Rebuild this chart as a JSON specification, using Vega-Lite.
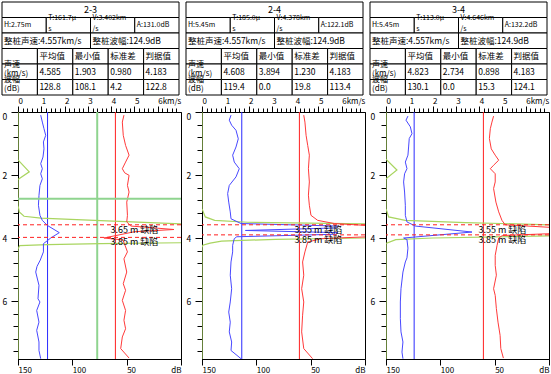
{
"$schema": "https://vega.github.io/schema/vega-lite/v6.json",
"padding": {"left": 1, "top": 1, "right": 0, "bottom": 0},
"background": "white",
"config": {
 "font": "Noto Sans CJK SC",
 "view": {"stroke": null},
 "axis": {"labelFont": "Noto Sans CJK SC", "labelFontSize": 8, "labelColor": "#000", "domainColor": "#000", "tickColor": "#000", "grid": false, "labelFlush": false, "labelOverlap": false, "labelBound": false, "title": null},
 "text": {"font": "Noto Sans CJK SC", "color": "#000"}
},
"datasets": {
 "all": [
  {"p":"2-3","r":"t","c":"x","t":"2-3"},
  {"p":"2-3","r":"i","c":"H","t":"H:2.75m"},
  {"p":"2-3","r":"i","c":"T","t":"T:161.7μ\ns"},
  {"p":"2-3","r":"i","c":"V","t":"V:3.402km\n/s"},
  {"p":"2-3","r":"i","c":"A","t":"A:131.0dB"},
  {"p":"2-3","r":"w","c":"sv","t":"整桩声速:4.557km/s"},
  {"p":"2-3","r":"w","c":"sa","t":"整桩波幅:124.9dB"},
  {"p":"2-3","r":"h","c":"lab","t":""},
  {"p":"2-3","r":"h","c":"avg","t":"平均值"},
  {"p":"2-3","r":"h","c":"min","t":"最小值"},
  {"p":"2-3","r":"h","c":"std","t":"标准差"},
  {"p":"2-3","r":"h","c":"crit","t":"判据值"},
  {"p":"2-3","r":"v","c":"lab","t":"声速\n(km/s)"},
  {"p":"2-3","r":"v","c":"avg","t":"4.585"},
  {"p":"2-3","r":"v","c":"min","t":"1.903"},
  {"p":"2-3","r":"v","c":"std","t":"0.980"},
  {"p":"2-3","r":"v","c":"crit","t":"4.183"},
  {"p":"2-3","r":"a","c":"lab","t":"波幅\n(dB)"},
  {"p":"2-3","r":"a","c":"avg","t":"128.8"},
  {"p":"2-3","r":"a","c":"min","t":"108.1"},
  {"p":"2-3","r":"a","c":"std","t":"4.2"},
  {"p":"2-3","r":"a","c":"crit","t":"122.8"},
  {"p":"2-4","r":"t","c":"x","t":"2-4"},
  {"p":"2-4","r":"i","c":"H","t":"H:5.45m"},
  {"p":"2-4","r":"i","c":"T","t":"T:185.0μ\ns"},
  {"p":"2-4","r":"i","c":"V","t":"V:4.378km\n/s"},
  {"p":"2-4","r":"i","c":"A","t":"A:122.1dB"},
  {"p":"2-4","r":"w","c":"sv","t":"整桩声速:4.557km/s"},
  {"p":"2-4","r":"w","c":"sa","t":"整桩波幅:124.9dB"},
  {"p":"2-4","r":"h","c":"lab","t":""},
  {"p":"2-4","r":"h","c":"avg","t":"平均值"},
  {"p":"2-4","r":"h","c":"min","t":"最小值"},
  {"p":"2-4","r":"h","c":"std","t":"标准差"},
  {"p":"2-4","r":"h","c":"crit","t":"判据值"},
  {"p":"2-4","r":"v","c":"lab","t":"声速\n(km/s)"},
  {"p":"2-4","r":"v","c":"avg","t":"4.608"},
  {"p":"2-4","r":"v","c":"min","t":"3.894"},
  {"p":"2-4","r":"v","c":"std","t":"1.230"},
  {"p":"2-4","r":"v","c":"crit","t":"4.183"},
  {"p":"2-4","r":"a","c":"lab","t":"波幅\n(dB)"},
  {"p":"2-4","r":"a","c":"avg","t":"119.4"},
  {"p":"2-4","r":"a","c":"min","t":"0.0"},
  {"p":"2-4","r":"a","c":"std","t":"19.8"},
  {"p":"2-4","r":"a","c":"crit","t":"113.4"},
  {"p":"3-4","r":"t","c":"x","t":"3-4"},
  {"p":"3-4","r":"i","c":"H","t":"H:5.45m"},
  {"p":"3-4","r":"i","c":"T","t":"T:113.0μ\ns"},
  {"p":"3-4","r":"i","c":"V","t":"V:4.646km\n/s"},
  {"p":"3-4","r":"i","c":"A","t":"A:132.2dB"},
  {"p":"3-4","r":"w","c":"sv","t":"整桩声速:4.557km/s"},
  {"p":"3-4","r":"w","c":"sa","t":"整桩波幅:124.9dB"},
  {"p":"3-4","r":"h","c":"lab","t":""},
  {"p":"3-4","r":"h","c":"avg","t":"平均值"},
  {"p":"3-4","r":"h","c":"min","t":"最小值"},
  {"p":"3-4","r":"h","c":"std","t":"标准差"},
  {"p":"3-4","r":"h","c":"crit","t":"判据值"},
  {"p":"3-4","r":"v","c":"lab","t":"声速\n(km/s)"},
  {"p":"3-4","r":"v","c":"avg","t":"4.823"},
  {"p":"3-4","r":"v","c":"min","t":"2.734"},
  {"p":"3-4","r":"v","c":"std","t":"0.898"},
  {"p":"3-4","r":"v","c":"crit","t":"4.183"},
  {"p":"3-4","r":"a","c":"lab","t":"波幅\n(dB)"},
  {"p":"3-4","r":"a","c":"avg","t":"130.1"},
  {"p":"3-4","r":"a","c":"min","t":"0.0"},
  {"p":"3-4","r":"a","c":"std","t":"15.3"},
  {"p":"3-4","r":"a","c":"crit","t":"124.1"},

  {"p":"2-3","s":"crit","vel":4.183,"amp":122.8},
  {"p":"2-4","s":"crit","vel":4.183,"amp":113.4},
  {"p":"3-4","s":"crit","vel":4.183,"amp":124.1},
  {"p":"2-3","s":"cur","d":2.75,"vel":3.402},
  {"p":"2-3","s":"def","d":3.58,"vel":4.183,"lab":"3.65 m 缺陷"},
  {"p":"2-3","s":"def","d":3.98,"vel":4.183,"lab":"3.85 m 缺陷"},
  {"p":"2-4","s":"def","d":3.58,"vel":4.183,"lab":"3.55 m 缺陷"},
  {"p":"2-4","s":"def","d":3.9,"vel":4.183,"lab":"3.85 m 缺陷"},
  {"p":"3-4","s":"def","d":3.58,"vel":4.183,"lab":"3.55 m 缺陷"},
  {"p":"3-4","s":"def","d":3.9,"vel":4.183,"lab":"3.85 m 缺陷"},

  {"p":"2-3","s":"amp","d":0.1,"v":129.1},{"p":"2-3","s":"amp","d":0.32,"v":127.6},{"p":"2-3","s":"amp","d":0.53,"v":126.1},{"p":"2-3","s":"amp","d":0.74,"v":124.5},{"p":"2-3","s":"amp","d":0.95,"v":126.6},{"p":"2-3","s":"amp","d":1.17,"v":126.1},{"p":"2-3","s":"amp","d":1.43,"v":127.0},{"p":"2-3","s":"amp","d":1.64,"v":129.1},{"p":"2-3","s":"amp","d":1.8,"v":127.6},{"p":"2-3","s":"amp","d":1.96,"v":129.1},{"p":"2-3","s":"amp","d":2.12,"v":127.6},{"p":"2-3","s":"amp","d":2.33,"v":129.8},{"p":"2-3","s":"amp","d":2.65,"v":130.7},{"p":"2-3","s":"amp","d":2.96,"v":131.2},{"p":"2-3","s":"amp","d":3.28,"v":129.8},{"p":"2-3","s":"amp","d":3.44,"v":127.6},{"p":"2-3","s":"amp","d":3.6,"v":123.0},{"p":"2-3","s":"amp","d":3.83,"v":112.0},{"p":"2-3","s":"amp","d":4.0,"v":119.9},{"p":"2-3","s":"amp","d":4.18,"v":126.6},{"p":"2-3","s":"amp","d":4.44,"v":126.6},{"p":"2-3","s":"amp","d":4.7,"v":129.5},{"p":"2-3","s":"amp","d":4.9,"v":132.5},{"p":"2-3","s":"amp","d":5.08,"v":133.7},{"p":"2-3","s":"amp","d":5.5,"v":130.7},{"p":"2-3","s":"amp","d":5.93,"v":131.6},{"p":"2-3","s":"amp","d":6.03,"v":129.8},{"p":"2-3","s":"amp","d":6.3,"v":132.8},{"p":"2-3","s":"amp","d":6.67,"v":130.7},{"p":"2-3","s":"amp","d":6.93,"v":132.8},{"p":"2-3","s":"amp","d":7.3,"v":130.7},{"p":"2-3","s":"amp","d":7.57,"v":130.7},{"p":"2-3","s":"amp","d":7.83,"v":129.1},

  {"p":"2-3","s":"vel","d":0.1,"v":4.55},{"p":"2-3","s":"vel","d":0.32,"v":4.48},{"p":"2-3","s":"vel","d":0.74,"v":4.52},{"p":"2-3","s":"vel","d":1.06,"v":4.62},{"p":"2-3","s":"vel","d":1.37,"v":4.77},{"p":"2-3","s":"vel","d":1.59,"v":4.62},{"p":"2-3","s":"vel","d":1.8,"v":4.48},{"p":"2-3","s":"vel","d":1.93,"v":4.58},{"p":"2-3","s":"vel","d":2.01,"v":4.77},{"p":"2-3","s":"vel","d":2.33,"v":4.7},{"p":"2-3","s":"vel","d":2.54,"v":4.77},{"p":"2-3","s":"vel","d":2.86,"v":4.67},{"p":"2-3","s":"vel","d":3.28,"v":4.7},{"p":"2-3","s":"vel","d":3.49,"v":4.67},{"p":"2-3","s":"vel","d":3.62,"v":4.85},{"p":"2-3","s":"vel","d":3.73,"v":6.7},{"p":"2-3","s":"vel","d":3.8,"v":5.0},{"p":"2-3","s":"vel","d":4.0,"v":3.69},{"p":"2-3","s":"vel","d":4.06,"v":4.5},{"p":"2-3","s":"vel","d":4.2,"v":4.58},{"p":"2-3","s":"vel","d":4.44,"v":4.7},{"p":"2-3","s":"vel","d":4.66,"v":4.55},{"p":"2-3","s":"vel","d":5.08,"v":4.67},{"p":"2-3","s":"vel","d":5.45,"v":4.52},{"p":"2-3","s":"vel","d":5.66,"v":4.62},{"p":"2-3","s":"vel","d":5.98,"v":4.48},{"p":"2-3","s":"vel","d":6.3,"v":4.62},{"p":"2-3","s":"vel","d":6.61,"v":4.55},{"p":"2-3","s":"vel","d":6.88,"v":4.62},{"p":"2-3","s":"vel","d":7.14,"v":4.48},{"p":"2-3","s":"vel","d":7.51,"v":4.41},{"p":"2-3","s":"vel","d":7.81,"v":4.77},

  {"p":"2-3","s":"psd","d":0,"v":0},{"p":"2-3","s":"psd","d":1.52,"v":0},{"p":"2-3","s":"psd","d":1.9,"v":6.9},{"p":"2-3","s":"psd","d":2.14,"v":0},{"p":"2-3","s":"psd","d":2.96,"v":0},{"p":"2-3","s":"psd","d":3.17,"v":0.8},{"p":"2-3","s":"psd","d":3.31,"v":3.7},{"p":"2-3","s":"psd","d":3.37,"v":14},{"p":"2-3","s":"psd","d":3.44,"v":47},{"p":"2-3","s":"psd","d":3.55,"v":100},{"p":"2-3","s":"psd","d":3.7,"v":200},{"p":"2-3","s":"psd","d":4.1,"v":200},{"p":"2-3","s":"psd","d":4.15,"v":100},{"p":"2-3","s":"psd","d":4.18,"v":50.7},{"p":"2-3","s":"psd","d":4.21,"v":18},{"p":"2-3","s":"psd","d":4.24,"v":1},{"p":"2-3","s":"psd","d":4.35,"v":0},{"p":"2-3","s":"psd","d":7.84,"v":0},

  {"p":"2-4","s":"amp","d":0.1,"v":123.3},{"p":"2-4","s":"amp","d":0.26,"v":124.9},{"p":"2-4","s":"amp","d":0.42,"v":122.7},{"p":"2-4","s":"amp","d":0.58,"v":118.7},{"p":"2-4","s":"amp","d":0.85,"v":116.6},{"p":"2-4","s":"amp","d":1.11,"v":118.7},{"p":"2-4","s":"amp","d":1.37,"v":121.8},{"p":"2-4","s":"amp","d":1.59,"v":120.3},{"p":"2-4","s":"amp","d":1.8,"v":115.7},{"p":"2-4","s":"amp","d":2.06,"v":118.7},{"p":"2-4","s":"amp","d":2.33,"v":124.9},{"p":"2-4","s":"amp","d":2.59,"v":126.4},{"p":"2-4","s":"amp","d":2.86,"v":125.4},{"p":"2-4","s":"amp","d":3.17,"v":124.0},{"p":"2-4","s":"amp","d":3.39,"v":123.3},{"p":"2-4","s":"amp","d":3.54,"v":114.1},{"p":"2-4","s":"amp","d":3.62,"v":25},{"p":"2-4","s":"amp","d":3.68,"v":27},{"p":"2-4","s":"amp","d":3.76,"v":110},{"p":"2-4","s":"amp","d":3.83,"v":25},{"p":"2-4","s":"amp","d":3.88,"v":27},{"p":"2-4","s":"amp","d":3.96,"v":118},{"p":"2-4","s":"amp","d":4.02,"v":120.3},{"p":"2-4","s":"amp","d":4.23,"v":121.8},{"p":"2-4","s":"amp","d":4.44,"v":121.8},{"p":"2-4","s":"amp","d":4.76,"v":123.3},{"p":"2-4","s":"amp","d":5.18,"v":124.0},{"p":"2-4","s":"amp","d":5.61,"v":122.7},{"p":"2-4","s":"amp","d":6.03,"v":124.0},{"p":"2-4","s":"amp","d":6.35,"v":125.4},{"p":"2-4","s":"amp","d":6.67,"v":124.0},{"p":"2-4","s":"amp","d":6.98,"v":124.9},{"p":"2-4","s":"amp","d":7.3,"v":122.7},{"p":"2-4","s":"amp","d":7.57,"v":123.3},{"p":"2-4","s":"amp","d":7.83,"v":114.1},

  {"p":"2-4","s":"vel","d":0.1,"v":4.37},{"p":"2-4","s":"vel","d":0.32,"v":4.42},{"p":"2-4","s":"vel","d":0.74,"v":4.47},{"p":"2-4","s":"vel","d":1.06,"v":4.54},{"p":"2-4","s":"vel","d":1.37,"v":4.61},{"p":"2-4","s":"vel","d":1.8,"v":4.57},{"p":"2-4","s":"vel","d":2.22,"v":4.61},{"p":"2-4","s":"vel","d":2.64,"v":4.57},{"p":"2-4","s":"vel","d":2.96,"v":4.61},{"p":"2-4","s":"vel","d":3.28,"v":4.68},{"p":"2-4","s":"vel","d":3.44,"v":4.97},{"p":"2-4","s":"vel","d":3.54,"v":5.68},{"p":"2-4","s":"vel","d":3.62,"v":7.5},{"p":"2-4","s":"vel","d":3.95,"v":7.5},{"p":"2-4","s":"vel","d":4.02,"v":5.11},{"p":"2-4","s":"vel","d":4.13,"v":4.54},{"p":"2-4","s":"vel","d":4.44,"v":4.42},{"p":"2-4","s":"vel","d":4.76,"v":4.32},{"p":"2-4","s":"vel","d":5.18,"v":4.37},{"p":"2-4","s":"vel","d":5.61,"v":4.28},{"p":"2-4","s":"vel","d":6.03,"v":4.37},{"p":"2-4","s":"vel","d":6.45,"v":4.32},{"p":"2-4","s":"vel","d":6.98,"v":4.28},{"p":"2-4","s":"vel","d":7.51,"v":4.37},{"p":"2-4","s":"vel","d":7.83,"v":4.75},

  {"p":"2-4","s":"psd","d":0,"v":0},{"p":"2-4","s":"psd","d":3.07,"v":0},{"p":"2-4","s":"psd","d":3.33,"v":2},{"p":"2-4","s":"psd","d":3.44,"v":7.8},{"p":"2-4","s":"psd","d":3.5,"v":28},{"p":"2-4","s":"psd","d":3.55,"v":100},{"p":"2-4","s":"psd","d":3.65,"v":200},{"p":"2-4","s":"psd","d":3.95,"v":200},{"p":"2-4","s":"psd","d":4.0,"v":100},{"p":"2-4","s":"psd","d":4.04,"v":45},{"p":"2-4","s":"psd","d":4.1,"v":12},{"p":"2-4","s":"psd","d":4.16,"v":5},{"p":"2-4","s":"psd","d":4.23,"v":0.5},{"p":"2-4","s":"psd","d":4.3,"v":0},{"p":"2-4","s":"psd","d":7.84,"v":0},

  {"p":"3-4","s":"amp","d":0.13,"v":129.8},{"p":"3-4","s":"amp","d":0.26,"v":131.6},{"p":"3-4","s":"amp","d":0.47,"v":127.6},{"p":"3-4","s":"amp","d":0.69,"v":126.1},{"p":"3-4","s":"amp","d":0.84,"v":128.6},{"p":"3-4","s":"amp","d":1.11,"v":129.2},{"p":"3-4","s":"amp","d":1.37,"v":129.8},{"p":"3-4","s":"amp","d":1.59,"v":132.2},{"p":"3-4","s":"amp","d":1.8,"v":130.7},{"p":"3-4","s":"amp","d":1.96,"v":132.9},{"p":"3-4","s":"amp","d":2.22,"v":133.8},{"p":"3-4","s":"amp","d":2.54,"v":132.9},{"p":"3-4","s":"amp","d":2.96,"v":132.2},{"p":"3-4","s":"amp","d":3.28,"v":132.2},{"p":"3-4","s":"amp","d":3.49,"v":130.7},{"p":"3-4","s":"amp","d":3.62,"v":123},{"p":"3-4","s":"amp","d":3.81,"v":70.9},{"p":"3-4","s":"amp","d":4.0,"v":133.8},{"p":"3-4","s":"amp","d":4.05,"v":130.7},{"p":"3-4","s":"amp","d":4.32,"v":129.8},{"p":"3-4","s":"amp","d":4.63,"v":130.7},{"p":"3-4","s":"amp","d":4.76,"v":132.2},{"p":"3-4","s":"amp","d":5.08,"v":134.4},{"p":"3-4","s":"amp","d":5.61,"v":136.2},{"p":"3-4","s":"amp","d":6.03,"v":136.8},{"p":"3-4","s":"amp","d":6.56,"v":136.8},{"p":"3-4","s":"amp","d":6.98,"v":136.2},{"p":"3-4","s":"amp","d":7.3,"v":134.4},{"p":"3-4","s":"amp","d":7.62,"v":135.3},{"p":"3-4","s":"amp","d":7.83,"v":134.4},

  {"p":"3-4","s":"vel","d":0.13,"v":4.62},{"p":"3-4","s":"vel","d":0.32,"v":4.55},{"p":"3-4","s":"vel","d":0.53,"v":4.48},{"p":"3-4","s":"vel","d":0.84,"v":4.44},{"p":"3-4","s":"vel","d":1.17,"v":4.52},{"p":"3-4","s":"vel","d":1.37,"v":4.69},{"p":"3-4","s":"vel","d":1.53,"v":4.84},{"p":"3-4","s":"vel","d":1.69,"v":4.62},{"p":"3-4","s":"vel","d":1.8,"v":4.48},{"p":"3-4","s":"vel","d":1.96,"v":4.69},{"p":"3-4","s":"vel","d":2.22,"v":4.69},{"p":"3-4","s":"vel","d":2.43,"v":4.62},{"p":"3-4","s":"vel","d":2.86,"v":4.72},{"p":"3-4","s":"vel","d":3.17,"v":4.84},{"p":"3-4","s":"vel","d":3.44,"v":4.98},{"p":"3-4","s":"vel","d":3.58,"v":5.12},{"p":"3-4","s":"vel","d":3.68,"v":7.5},{"p":"3-4","s":"vel","d":3.85,"v":7.5},{"p":"3-4","s":"vel","d":3.92,"v":5.0},{"p":"3-4","s":"vel","d":4.0,"v":4.84},{"p":"3-4","s":"vel","d":4.23,"v":4.77},{"p":"3-4","s":"vel","d":4.55,"v":4.69},{"p":"3-4","s":"vel","d":4.87,"v":4.69},{"p":"3-4","s":"vel","d":5.18,"v":4.74},{"p":"3-4","s":"vel","d":5.61,"v":4.62},{"p":"3-4","s":"vel","d":5.82,"v":4.69},{"p":"3-4","s":"vel","d":6.24,"v":4.74},{"p":"3-4","s":"vel","d":6.67,"v":4.81},{"p":"3-4","s":"vel","d":7.09,"v":4.9},{"p":"3-4","s":"vel","d":7.51,"v":4.93},{"p":"3-4","s":"vel","d":7.81,"v":5.04},

  {"p":"3-4","s":"psd","d":0,"v":0},{"p":"3-4","s":"psd","d":1.5,"v":0},{"p":"3-4","s":"psd","d":1.84,"v":6.7},{"p":"3-4","s":"psd","d":2.12,"v":0},{"p":"3-4","s":"psd","d":3.07,"v":0},{"p":"3-4","s":"psd","d":3.33,"v":1.6},{"p":"3-4","s":"psd","d":3.44,"v":11.8},{"p":"3-4","s":"psd","d":3.51,"v":48.7},{"p":"3-4","s":"psd","d":3.58,"v":100},{"p":"3-4","s":"psd","d":3.68,"v":200},{"p":"3-4","s":"psd","d":3.88,"v":200},{"p":"3-4","s":"psd","d":3.93,"v":100},{"p":"3-4","s":"psd","d":4.0,"v":28.6},{"p":"3-4","s":"psd","d":4.05,"v":6},{"p":"3-4","s":"psd","d":4.17,"v":0},{"p":"3-4","s":"psd","d":7.84,"v":0}
 ]
},
"data": {"name": "all"},
"facet": {"column": {"field": "p", "type": "nominal", "header": null}},
"spacing": {"column": 21},
"bounds": "flush",
"resolve": {"axis": {"x": "independent", "y": "independent"}},
"spec": {
 "width": 163,
 "height": 247,
 "view": {"stroke": "black", "strokeWidth": 1},
 "layer": [
  {"transform": [{"filter": "datum.r=='t'"}],
   "encoding": {
    "x": {"field": "c", "type": "nominal", "scale": {"domain": ["x"], "range": [-16, 161], "paddingInner": 0, "paddingOuter": 0}, "axis": null},
    "y": {"field": "r", "type": "nominal", "scale": {"domain": ["t","i","w","h","v","a"], "range": [-110, -17], "paddingInner": 0, "paddingOuter": 0}, "axis": null}},
   "layer": [
    {"mark": {"type": "rect", "fill": "white", "stroke": "black", "strokeWidth": 1}},
    {"mark": {"type": "text", "fontSize": 9, "align": "center", "baseline": "middle"},
     "encoding": {"text": {"field": "t"}}}
   ]},
  {"transform": [{"filter": "datum.r=='i'"}],
   "encoding": {
    "x": {"field": "c", "type": "nominal", "scale": {"domain": ["H","T","V","A"], "range": [-16, 161], "paddingInner": 0, "paddingOuter": 0}, "axis": null},
    "y": {"field": "r", "type": "nominal", "scale": {"domain": ["t","i","w","h","v","a"], "range": [-110, -17], "paddingInner": 0, "paddingOuter": 0}, "axis": null}},
   "layer": [
    {"mark": {"type": "rect", "fill": "white", "stroke": "black", "strokeWidth": 1}},
    {"transform": [{"filter": "datum.c=='H' || datum.c=='A'"}],
     "mark": {"type": "text", "fontSize": 7, "align": "left", "baseline": "middle", "dx": 2},
     "encoding": {"x": {"field": "c", "type": "nominal", "bandPosition": 0}, "text": {"field": "t"}}},
    {"transform": [{"filter": "datum.c=='T' || datum.c=='V'"}],
     "mark": {"type": "text", "fontSize": 7, "align": "left", "baseline": "middle", "dx": 2, "dy": -7, "lineBreak": "\n", "lineHeight": 11},
     "encoding": {"x": {"field": "c", "type": "nominal", "bandPosition": 0}, "text": {"field": "t"}}}
   ]},
  {"transform": [{"filter": "datum.r=='w'"}],
   "encoding": {
    "x": {"field": "c", "type": "nominal", "scale": {"domain": ["sv","sa"], "range": [-16, 161], "paddingInner": 0, "paddingOuter": 0}, "axis": null},
    "y": {"field": "r", "type": "nominal", "scale": {"domain": ["t","i","w","h","v","a"], "range": [-110, -17], "paddingInner": 0, "paddingOuter": 0}, "axis": null}},
   "layer": [
    {"mark": {"type": "rect", "fill": "white", "stroke": "black", "strokeWidth": 1}},
    {"mark": {"type": "text", "fontSize": 8.5, "align": "left", "baseline": "middle", "dx": 2},
     "encoding": {"x": {"field": "c", "type": "nominal", "bandPosition": 0}, "text": {"field": "t"}}}
   ]},
  {"transform": [{"filter": "datum.r=='h' || datum.r=='v' || datum.r=='a'"}],
   "encoding": {
    "x": {"field": "c", "type": "nominal", "scale": {"domain": ["lab","avg","min","std","crit"], "range": [-16, 161], "paddingInner": 0, "paddingOuter": 0}, "axis": null},
    "y": {"field": "r", "type": "nominal", "scale": {"domain": ["t","i","w","h","v","a"], "range": [-110, -17], "paddingInner": 0, "paddingOuter": 0}, "axis": null}},
   "layer": [
    {"mark": {"type": "rect", "fill": "white", "stroke": "black", "strokeWidth": 1}},
    {"transform": [{"filter": "datum.c!='lab'"}],
     "mark": {"type": "text", "fontSize": 8.5, "align": "left", "baseline": "middle", "dx": 2},
     "encoding": {"x": {"field": "c", "type": "nominal", "bandPosition": 0}, "text": {"field": "t"}}},
    {"transform": [{"filter": "datum.c=='lab'"}],
     "mark": {"type": "text", "fontSize": 8, "align": "left", "baseline": "middle", "dx": 2, "dy": -7, "lineBreak": "\n", "lineHeight": 9},
     "encoding": {"x": {"field": "c", "type": "nominal", "bandPosition": 0}, "text": {"field": "t"}}}
   ]},

  {"transform": [{"filter": "datum.s=='crit'"}],
   "mark": {"type": "rule", "color": "#ff2020", "strokeWidth": 1},
   "encoding": {"x": {"field": "vel", "type": "quantitative", "scale": {"domain": [0, 7], "nice": false, "zero": false}, "axis": null}}},
  {"transform": [{"filter": "datum.s=='crit'"}],
   "mark": {"type": "rule", "color": "#2a2aff", "strokeWidth": 1},
   "encoding": {"x": {"field": "amp", "type": "quantitative", "scale": {"domain": [150, 0], "nice": false, "zero": false}, "axis": null}}},
  {"transform": [{"filter": "datum.s=='cur'"}],
   "mark": {"type": "rule", "color": "#8fd48f", "strokeWidth": 2},
   "encoding": {"x": {"field": "vel", "type": "quantitative", "scale": {"domain": [0, 7], "nice": false, "zero": false}, "axis": null}}},
  {"transform": [{"filter": "datum.s=='psd'"}],
   "mark": {"type": "line", "color": "#a9d560", "strokeWidth": 1.2, "clip": true},
   "encoding": {
    "x": {"field": "v", "type": "quantitative", "scale": {"domain": [0, 100], "nice": false, "zero": false}, "axis": null},
    "y": {"field": "d", "type": "quantitative", "scale": {"domain": [0, 7.84], "reverse": true, "nice": false, "zero": false},
          "axis": {"orient": "left", "values": [0,0.4,0.8,1.2,1.6,2,2.4,2.8,3.2,3.6,4,4.4,4.8,5.2,5.6,6,6.4,6.8,7.2,7.6],
                   "tickSize": {"condition": {"test": "datum.value % 2 == 0", "value": 7}, "value": 5},
                   "labelExpr": "datum.value % 2 == 0 ? format(datum.value, 'd') : ''",
                   "labelAlign": "left", "labelPadding": 9, "labelFontSize": 8.5,
                   "labelBaseline": {"condition": {"test": "datum.value == 0", "value": "top"}, "value": "middle"},
                   "title": null}},
    "order": {"field": "d", "type": "quantitative"}}},
  {"transform": [{"filter": "datum.s=='amp'"}],
   "mark": {"type": "line", "color": "#4848ff", "strokeWidth": 1, "clip": true},
   "encoding": {
    "x": {"field": "v", "type": "quantitative", "scale": {"domain": [150, 0], "nice": false, "zero": false},
          "axis": {"orient": "bottom", "values": [150, 100, 50, 0], "tickSize": 6, "labelPadding": 1,
                   "labelExpr": "datum.value == 0 ? 'dB' : format(datum.value, 'd')",
                   "labelAlign": {"condition": {"test": "datum.value == 0", "value": "right"}, "value": "left"},
                   "title": null}},
    "y": {"field": "d", "type": "quantitative", "scale": {"domain": [0, 7.84], "reverse": true, "nice": false, "zero": false}, "axis": null},
    "order": {"field": "d", "type": "quantitative"}}},
  {"transform": [{"filter": "datum.s=='vel'"}],
   "mark": {"type": "line", "color": "#ff3a3a", "strokeWidth": 1, "clip": true},
   "encoding": {
    "x": {"field": "v", "type": "quantitative", "scale": {"domain": [0, 7], "nice": false, "zero": false},
          "axis": {"orient": "top", "values": [0,0.2,0.4,0.6,0.8,1,1.2,1.4,1.6,1.8,2,2.2,2.4,2.6,2.8,3,3.2,3.4,3.6,3.8,4,4.2,4.4,4.6,4.8,5,5.2,5.4,5.6,5.8,6,6.2,6.4,6.6,6.8],
                   "tickSize": {"condition": {"test": "datum.value % 1 == 0", "value": 6}, "value": 4},
                   "labelExpr": "datum.value % 1 == 0 ? (datum.value == 6 ? '6km/s' : format(datum.value, 'd')) : ''",
                   "labelAlign": "left", "labelPadding": 1,
                   "title": null}},
    "y": {"field": "d", "type": "quantitative", "scale": {"domain": [0, 7.84], "reverse": true, "nice": false, "zero": false}, "axis": null},
    "order": {"field": "d", "type": "quantitative"}}},
  {"transform": [{"filter": "datum.s=='cur'"}],
   "mark": {"type": "rule", "color": "#8fd48f", "strokeWidth": 2},
   "encoding": {"y": {"field": "d", "type": "quantitative", "scale": {"domain": [0, 7.84], "reverse": true, "nice": false, "zero": false}, "axis": null}}},
  {"transform": [{"filter": "datum.s=='def'"}],
   "mark": {"type": "rule", "color": "#ff2020", "strokeWidth": 1, "strokeDash": [4, 3]},
   "encoding": {"y": {"field": "d", "type": "quantitative", "scale": {"domain": [0, 7.84], "reverse": true, "nice": false, "zero": false}, "axis": null}}},
  {"transform": [{"filter": "datum.s=='def'"}],
   "mark": {"type": "text", "fontSize": 9, "align": "left", "baseline": "middle", "dx": -5, "dy": 5},
   "encoding": {
    "x": {"field": "vel", "type": "quantitative", "scale": {"domain": [0, 7], "nice": false, "zero": false}, "axis": null},
    "y": {"field": "d", "type": "quantitative", "scale": {"domain": [0, 7.84], "reverse": true, "nice": false, "zero": false}, "axis": null},
    "text": {"field": "lab"}}}
 ],
 "resolve": {"scale": {"x": "independent", "y": "independent"}}
}
}
